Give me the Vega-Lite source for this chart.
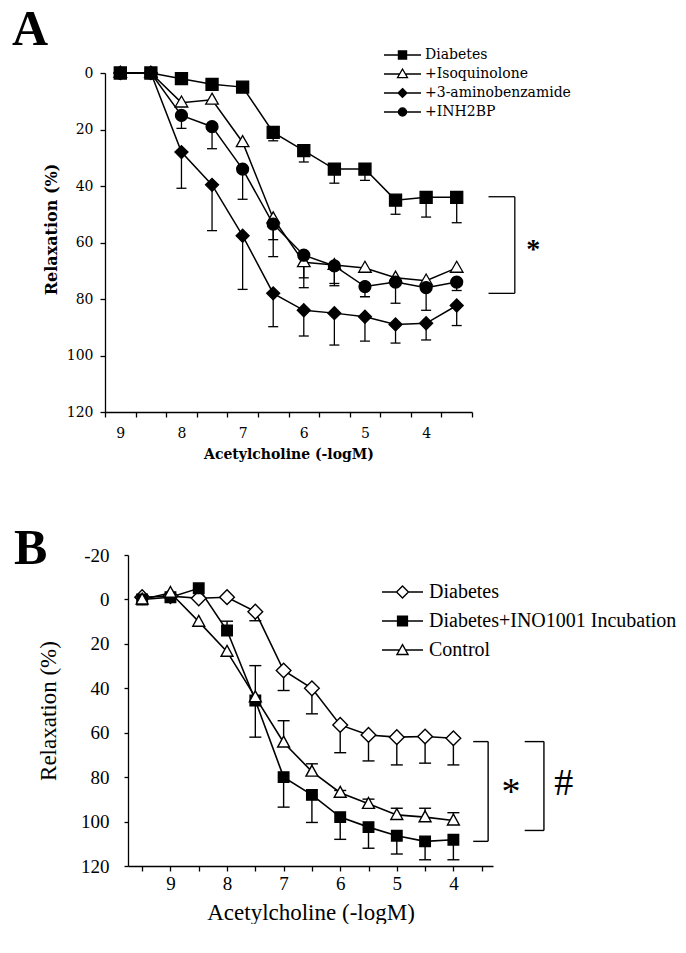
{
  "$schema": "https://vega.github.io/schema/vega-lite/v6.json",
  "padding": {"left": 12, "top": 5, "right": 0, "bottom": 0},
  "spacing": 62,
  "columns": 1,
  "background": "white",
  "config": {
    "view": {"stroke": null},
    "axis": {"grid": false, "domainColor": "black", "tickColor": "black", "labelColor": "black", "titleColor": "black", "domainWidth": 1.3, "tickWidth": 1.3, "labelFlush": false}
  },
  "datasets": {
    "a": [
      {"s": "Diabetes", "x": 9, "y": 0, "e": null},
      {"s": "Diabetes", "x": 8.5, "y": 0, "e": null},
      {"s": "Diabetes", "x": 8, "y": 2, "e": null},
      {"s": "Diabetes", "x": 7.5, "y": 4, "e": null},
      {"s": "Diabetes", "x": 7, "y": 5, "e": null},
      {"s": "Diabetes", "x": 6.5, "y": 21, "e": 24},
      {"s": "Diabetes", "x": 6, "y": 27.5, "e": 31.5},
      {"s": "Diabetes", "x": 5.5, "y": 34, "e": 39},
      {"s": "Diabetes", "x": 5, "y": 34, "e": 38},
      {"s": "Diabetes", "x": 4.5, "y": 45, "e": 50},
      {"s": "Diabetes", "x": 4, "y": 44, "e": 51},
      {"s": "Diabetes", "x": 3.5, "y": 44, "e": 53},
      {"s": "+Isoquinolone", "x": 9, "y": 0, "e": null},
      {"s": "+Isoquinolone", "x": 8.5, "y": 0, "e": null},
      {"s": "+Isoquinolone", "x": 8, "y": 10.5, "e": null},
      {"s": "+Isoquinolone", "x": 7.5, "y": 9.5, "e": null},
      {"s": "+Isoquinolone", "x": 7, "y": 24.5, "e": null},
      {"s": "+Isoquinolone", "x": 6.5, "y": 51.5, "e": 59},
      {"s": "+Isoquinolone", "x": 6, "y": 67, "e": 72.5},
      {"s": "+Isoquinolone", "x": 5.5, "y": 68, "e": 74.5},
      {"s": "+Isoquinolone", "x": 5, "y": 69, "e": null},
      {"s": "+Isoquinolone", "x": 4.5, "y": 72.5, "e": null},
      {"s": "+Isoquinolone", "x": 4, "y": 73.5, "e": null},
      {"s": "+Isoquinolone", "x": 3.5, "y": 69, "e": null},
      {"s": "+3-aminobenzamide", "x": 9, "y": 0, "e": null},
      {"s": "+3-aminobenzamide", "x": 8.5, "y": 0, "e": null},
      {"s": "+3-aminobenzamide", "x": 8, "y": 28, "e": 40.8},
      {"s": "+3-aminobenzamide", "x": 7.5, "y": 39.6, "e": 55.8},
      {"s": "+3-aminobenzamide", "x": 7, "y": 57.6, "e": 76.6},
      {"s": "+3-aminobenzamide", "x": 6.5, "y": 78, "e": 89.8},
      {"s": "+3-aminobenzamide", "x": 6, "y": 84, "e": 93.1},
      {"s": "+3-aminobenzamide", "x": 5.5, "y": 85, "e": 96.3},
      {"s": "+3-aminobenzamide", "x": 5, "y": 86.3, "e": 94.9},
      {"s": "+3-aminobenzamide", "x": 4.5, "y": 89, "e": 95.6},
      {"s": "+3-aminobenzamide", "x": 4, "y": 88.6, "e": 94.5},
      {"s": "+3-aminobenzamide", "x": 3.5, "y": 82.3, "e": 89.4},
      {"s": "+INH2BP", "x": 9, "y": 0, "e": null},
      {"s": "+INH2BP", "x": 8.5, "y": 0, "e": null},
      {"s": "+INH2BP", "x": 8, "y": 15, "e": 19.6},
      {"s": "+INH2BP", "x": 7.5, "y": 19, "e": 26.8},
      {"s": "+INH2BP", "x": 7, "y": 34, "e": 44.7},
      {"s": "+INH2BP", "x": 6.5, "y": 53.5, "e": 65},
      {"s": "+INH2BP", "x": 6, "y": 64.5, "e": 76},
      {"s": "+INH2BP", "x": 5.5, "y": 68.3, "e": 75.3},
      {"s": "+INH2BP", "x": 5, "y": 75.6, "e": 79.2},
      {"s": "+INH2BP", "x": 4.5, "y": 74, "e": 81.5},
      {"s": "+INH2BP", "x": 4, "y": 76, "e": 84},
      {"s": "+INH2BP", "x": 3.5, "y": 74, "e": 77}
    ],
    "b": [
      {"s": "Diabetes", "x": 9.5, "y": -1, "e": null},
      {"s": "Diabetes", "x": 9, "y": -1.5, "e": null},
      {"s": "Diabetes", "x": 8.5, "y": -0.5, "e": null},
      {"s": "Diabetes", "x": 8, "y": -1, "e": null},
      {"s": "Diabetes", "x": 7.5, "y": 5.5, "e": 9.6},
      {"s": "Diabetes", "x": 7, "y": 32, "e": 41},
      {"s": "Diabetes", "x": 6.5, "y": 40, "e": 51.5},
      {"s": "Diabetes", "x": 6, "y": 56.5, "e": 69},
      {"s": "Diabetes", "x": 5.5, "y": 61, "e": 72.7},
      {"s": "Diabetes", "x": 5, "y": 62, "e": 74.5},
      {"s": "Diabetes", "x": 4.5, "y": 61.7, "e": 73.7},
      {"s": "Diabetes", "x": 4, "y": 62.5, "e": 74.5},
      {"s": "Diabetes+INO1001 Incubation", "x": 9.5, "y": 0, "e": null},
      {"s": "Diabetes+INO1001 Incubation", "x": 9, "y": -1, "e": null},
      {"s": "Diabetes+INO1001 Incubation", "x": 8.5, "y": -5, "e": null},
      {"s": "Diabetes+INO1001 Incubation", "x": 8, "y": 14, "e": 9.8},
      {"s": "Diabetes+INO1001 Incubation", "x": 7.5, "y": 45.5, "e": 62},
      {"s": "Diabetes+INO1001 Incubation", "x": 7, "y": 80, "e": 93.5},
      {"s": "Diabetes+INO1001 Incubation", "x": 6.5, "y": 88, "e": 100.4},
      {"s": "Diabetes+INO1001 Incubation", "x": 6, "y": 98, "e": 108},
      {"s": "Diabetes+INO1001 Incubation", "x": 5.5, "y": 102.5, "e": 112},
      {"s": "Diabetes+INO1001 Incubation", "x": 5, "y": 106.4, "e": 114.6},
      {"s": "Diabetes+INO1001 Incubation", "x": 4.5, "y": 108.9, "e": 117.2},
      {"s": "Diabetes+INO1001 Incubation", "x": 4, "y": 108.2, "e": 117.2},
      {"s": "Control", "x": 9.5, "y": 0, "e": null},
      {"s": "Control", "x": 9, "y": -3, "e": null},
      {"s": "Control", "x": 8.5, "y": 10, "e": null},
      {"s": "Control", "x": 8, "y": 23.5, "e": null},
      {"s": "Control", "x": 7.5, "y": 44, "e": 29.8},
      {"s": "Control", "x": 7, "y": 64.4, "e": 54.6},
      {"s": "Control", "x": 6.5, "y": 77.5, "e": 74},
      {"s": "Control", "x": 6, "y": 87, "e": 86},
      {"s": "Control", "x": 5.5, "y": 92, "e": 89.9},
      {"s": "Control", "x": 5, "y": 97, "e": 94},
      {"s": "Control", "x": 4.5, "y": 98, "e": 94},
      {"s": "Control", "x": 4, "y": 99.5, "e": 96}
    ]
  },
  "concat": [
    {
      "width": 367,
      "height": 339,
      "title": {"text": "A", "anchor": "start", "frame": "group", "dx": -93, "offset": -48.5, "baseline": "alphabetic", "fontSize": 50, "font": "Liberation Serif", "fontWeight": "bold", "color": "black"},
      "resolve": {"scale": {"x": "independent", "shape": "independent", "fill": "independent"}},
      "layer": [
        {
          "data": {"name": "a"},
          "transform": [{"filter": "datum.e != null"}],
          "mark": {"type": "rule", "color": "black", "strokeWidth": 1.3, "clip": false},
          "encoding": {
            "x": {"field": "x", "type": "quantitative", "scale": {"domain": [3.25, 9.25], "reverse": true, "nice": false, "zero": false},
              "axis": {"orient": "bottom", "title": null, "labels": false, "values": [9.25, 8.75, 8.25, 7.75, 7.25, 6.75, 6.25, 5.75, 5.25, 4.75, 4.25, 3.75, 3.25], "tickSize": 5}},
            "y": {"field": "y", "type": "quantitative", "scale": {"domain": [0, 120], "reverse": true, "nice": false, "zero": false},
              "axis": {"title": "Relaxation (%)", "values": [0, 20, 40, 60, 80, 100, 120], "tickSize": 5, "labelPadding": 7, "titleY": 156,
                "labelFont": "DejaVu Serif", "labelFontSize": 14, "titleFont": "DejaVu Serif", "titleFontWeight": "bold", "titleFontSize": 16, "titlePadding": 7}},
            "y2": {"field": "e"}
          }
        },
        {
          "data": {"name": "a"},
          "transform": [{"filter": "datum.e != null"}],
          "mark": {"type": "tick", "orient": "horizontal", "size": 10, "thickness": 1.3, "color": "black", "opacity": 1, "clip": false},
          "encoding": {
            "x": {"field": "x", "type": "quantitative", "axis": null, "scale": {"domain": [3.25, 9.25], "reverse": true, "nice": false, "zero": false}},
            "y": {"field": "e", "type": "quantitative", "scale": {"domain": [0, 120], "reverse": true, "nice": false, "zero": false}}
          }
        },
        {
          "data": {"name": "a"},
          "mark": {"type": "line", "color": "black", "strokeWidth": 1.5, "clip": false},
          "encoding": {
            "x": {"field": "x", "type": "quantitative", "scale": {"domain": [3.25, 9.25], "reverse": true, "nice": false, "zero": false},
              "axis": {"orient": "bottom", "title": "Acetylcholine (-logM)", "values": [9, 8, 7, 6, 5, 4], "domain": false, "tickOpacity": 0, "tickSize": 5,
                "labelPadding": 9, "labelFont": "DejaVu Serif", "labelFontSize": 14, "labelOverlap": false,
                "titleFont": "DejaVu Serif", "titleFontWeight": "bold", "titleFontSize": 14, "titlePadding": 7}},
            "y": {"field": "y", "type": "quantitative", "scale": {"domain": [0, 120], "reverse": true, "nice": false, "zero": false}},
            "detail": {"field": "s"}
          }
        },
        {
          "data": {"name": "a"},
          "mark": {"type": "point", "filled": true, "size": 196, "stroke": "black", "strokeWidth": 1.3, "opacity": 1, "clip": false},
          "encoding": {
            "x": {"field": "x", "type": "quantitative", "axis": null, "scale": {"domain": [3.25, 9.25], "reverse": true, "nice": false, "zero": false}},
            "y": {"field": "y", "type": "quantitative", "scale": {"domain": [0, 120], "reverse": true, "nice": false, "zero": false}},
            "shape": {"field": "s", "type": "nominal", "legend": null, "scale": {"domain": ["Diabetes", "+Isoquinolone", "+3-aminobenzamide", "+INH2BP"],
              "range": ["M-0.86,-0.86H0.86V0.86H-0.86Z", "M0,-0.95L0.9,0.62H-0.9Z", "M0,-0.93L0.93,0L0,0.93L-0.93,0Z", "M-0.85,0A0.85,0.85 0 1,0 0.85,0A0.85,0.85 0 1,0 -0.85,0Z"]}},
            "fill": {"field": "s", "type": "nominal", "legend": null, "scale": {"domain": ["Diabetes", "+Isoquinolone", "+3-aminobenzamide", "+INH2BP"], "range": ["black", "white", "black", "black"]}}
          }
        },
        {
          "data": {"name": "a"},
          "transform": [{"filter": "false"}],
          "mark": {"type": "point", "filled": true, "size": 1369, "stroke": "black", "strokeWidth": 1.3, "opacity": 1},
          "encoding": {
            "shape": {"field": "s", "type": "nominal",
              "scale": {"domain": ["Diabetes", "+Isoquinolone", "+3-aminobenzamide", "+INH2BP"],
                "range": ["M-1,0H1M-0.22,-0.22H0.22V0.22H-0.22Z", "M-1,0H-0.16M0.16,0H1M0,-0.27L0.27,0.2H-0.27Z", "M-1,0H1M0,-0.24L0.24,0L0,0.24L-0.24,0Z", "M-1,0H1M-0.22,0A0.22,0.22 0 1,0 0.22,0A0.22,0.22 0 1,0 -0.22,0Z"]},
              "legend": {"title": null, "orient": "none", "legendX": 278, "legendY": -26.5, "padding": 0, "symbolSize": 1369, "clipHeight": 17, "rowPadding": 2, "labelOffset": 3,
                "labelFont": "DejaVu Serif", "labelFontSize": 14, "labelColor": "black", "symbolStrokeColor": "black", "symbolStrokeWidth": 1.3, "symbolOpacity": 1,
                "encode": {"symbols": {"update": {"stroke": {"value": "black"}, "strokeWidth": {"value": 1.3}}}}}},
            "fill": {"field": "s", "type": "nominal",
              "scale": {"domain": ["Diabetes", "+Isoquinolone", "+3-aminobenzamide", "+INH2BP"], "range": ["black", "white", "black", "black"]},
              "legend": {"title": null, "orient": "none", "legendX": 278, "legendY": -26.5, "padding": 0, "symbolSize": 1369, "clipHeight": 17, "rowPadding": 2, "labelOffset": 3,
                "labelFont": "DejaVu Serif", "labelFontSize": 14, "labelColor": "black", "symbolStrokeColor": "black", "symbolStrokeWidth": 1.3, "symbolOpacity": 1,
                "encode": {"symbols": {"update": {"stroke": {"value": "black"}, "strokeWidth": {"value": 1.3}}}}}}
          }
        },
        {
          "data": {"values": [
            {"x": 2.55, "x2": 2.55, "y": 43.8, "y2": 78},
            {"x": 2.98, "x2": 2.55, "y": 43.8, "y2": 43.8},
            {"x": 2.98, "x2": 2.55, "y": 78, "y2": 78}
          ]},
          "mark": {"type": "rule", "color": "black", "strokeWidth": 1.3, "clip": false},
          "encoding": {
            "x": {"field": "x", "type": "quantitative", "axis": null, "scale": {"domain": [3.25, 9.25], "reverse": true, "nice": false, "zero": false}},
            "x2": {"field": "x2"},
            "y": {"field": "y", "type": "quantitative", "scale": {"domain": [0, 120], "reverse": true, "nice": false, "zero": false}},
            "y2": {"field": "y2"}
          }
        },
        {
          "data": {"values": [{"x": 2.25, "y": 65.5, "t": "*"}]},
          "mark": {"type": "text", "font": "Liberation Serif", "fontSize": 28, "fontWeight": "bold", "baseline": "alphabetic", "align": "center", "color": "black", "clip": false},
          "encoding": {
            "x": {"field": "x", "type": "quantitative", "axis": null, "scale": {"domain": [3.25, 9.25], "reverse": true, "nice": false, "zero": false}},
            "y": {"field": "y", "type": "quantitative", "scale": {"domain": [0, 120], "reverse": true, "nice": false, "zero": false}},
            "text": {"field": "t"}
          }
        }
      ]
    },
    {
      "width": 388,
      "height": 311,
      "title": {"text": "B", "anchor": "start", "frame": "group", "dx": -91, "offset": -67.5, "baseline": "alphabetic", "fontSize": 50, "font": "Liberation Serif", "fontWeight": "bold", "color": "black"},
      "resolve": {"scale": {"x": "independent", "shape": "independent", "fill": "independent"}},
      "layer": [
        {
          "data": {"name": "b"},
          "transform": [{"filter": "datum.e != null"}],
          "mark": {"type": "rule", "color": "black", "strokeWidth": 1.4, "clip": false},
          "encoding": {
            "x": {"field": "x", "type": "quantitative", "scale": {"domain": [3.3, 9.75], "range": [23, 388], "reverse": true, "nice": false, "zero": false},
              "axis": {"orient": "bottom", "title": null, "labels": false, "values": [9.5, 9, 8.5, 8, 7.5, 7, 6.5, 6, 5.5, 5, 4.5, 4, 3.5], "tickSize": 5}},
            "y": {"field": "y", "type": "quantitative", "scale": {"domain": [-20, 120], "reverse": true, "nice": false, "zero": false},
              "axis": {"title": "Relaxation (%)", "values": [-20, 0, 20, 40, 60, 80, 100, 120], "offset": -23, "tickSize": 4, "labelPadding": 15,
                "labelExpr": "datum.value < 0 ? '-' + abs(datum.value) : '' + datum.value",
                "labelFont": "Liberation Serif", "labelFontSize": 19, "titleFont": "Liberation Serif", "titleFontWeight": "normal", "titleFontSize": 23, "titlePadding": 20}},
            "y2": {"field": "e"}
          }
        },
        {
          "data": {"name": "b"},
          "transform": [{"filter": "datum.e != null"}],
          "mark": {"type": "tick", "orient": "horizontal", "size": 12, "thickness": 1.4, "color": "black", "opacity": 1, "clip": false},
          "encoding": {
            "x": {"field": "x", "type": "quantitative", "axis": null, "scale": {"domain": [3.3, 9.75], "range": [23, 388], "reverse": true, "nice": false, "zero": false}},
            "y": {"field": "e", "type": "quantitative", "scale": {"domain": [-20, 120], "reverse": true, "nice": false, "zero": false}}
          }
        },
        {
          "data": {"name": "b"},
          "mark": {"type": "line", "color": "black", "strokeWidth": 1.6, "clip": false},
          "encoding": {
            "x": {"field": "x", "type": "quantitative", "scale": {"domain": [3.3, 9.75], "range": [23, 388], "reverse": true, "nice": false, "zero": false},
              "axis": {"orient": "bottom", "title": "Acetylcholine (-logM)", "values": [9, 8, 7, 6, 5, 4], "domain": false, "tickOpacity": 0, "tickSize": 5,
                "labelPadding": 3, "labelFont": "Liberation Serif", "labelFontSize": 19, "labelOverlap": false,
                "titleFont": "Liberation Serif", "titleFontWeight": "normal", "titleFontSize": 23, "titlePadding": 8}},
            "y": {"field": "y", "type": "quantitative", "scale": {"domain": [-20, 120], "reverse": true, "nice": false, "zero": false}},
            "detail": {"field": "s"}
          }
        },
        {
          "data": {"name": "b"},
          "mark": {"type": "point", "filled": true, "size": 196, "stroke": "black", "strokeWidth": 1.4, "opacity": 1, "clip": false},
          "encoding": {
            "x": {"field": "x", "type": "quantitative", "axis": null, "scale": {"domain": [3.3, 9.75], "range": [23, 388], "reverse": true, "nice": false, "zero": false}},
            "y": {"field": "y", "type": "quantitative", "scale": {"domain": [-20, 120], "reverse": true, "nice": false, "zero": false}},
            "shape": {"field": "s", "type": "nominal", "legend": null, "scale": {"domain": ["Diabetes", "Diabetes+INO1001 Incubation", "Control"],
              "range": ["M0,-1.05L1.05,0L0,1.05L-1.05,0Z", "M-0.75,-0.75H0.75V0.75H-0.75Z", "M0,-0.9L0.85,0.65H-0.85Z"]}},
            "fill": {"field": "s", "type": "nominal", "legend": null, "scale": {"domain": ["Diabetes", "Diabetes+INO1001 Incubation", "Control"], "range": ["white", "black", "white"]}}
          }
        },
        {
          "data": {"name": "b"},
          "transform": [{"filter": "false"}],
          "mark": {"type": "point", "filled": true, "size": 1681, "stroke": "black", "strokeWidth": 1.4, "opacity": 1},
          "encoding": {
            "shape": {"field": "s", "type": "nominal",
              "scale": {"domain": ["Diabetes", "Diabetes+INO1001 Incubation", "Control"],
                "range": ["M-1,0H-0.29M0.29,0H1M0,-0.29L0.29,0L0,0.29L-0.29,0Z", "M-1,0H1M-0.24,-0.24H0.24V0.24H-0.24Z", "M-1,0H-0.15M0.15,0H1M0,-0.26L0.27,0.22H-0.27Z"]},
              "legend": {"title": null, "orient": "none", "legendX": 276, "legendY": 24, "padding": 0, "symbolSize": 1681, "clipHeight": 26, "rowPadding": 3, "labelOffset": 5,
                "labelFont": "Liberation Serif", "labelFontSize": 20, "labelColor": "black", "labelLimit": 400, "symbolStrokeColor": "black", "symbolStrokeWidth": 1.4, "symbolOpacity": 1,
                "encode": {"symbols": {"update": {"stroke": {"value": "black"}, "strokeWidth": {"value": 1.4}}}}}},
            "fill": {"field": "s", "type": "nominal",
              "scale": {"domain": ["Diabetes", "Diabetes+INO1001 Incubation", "Control"], "range": ["white", "black", "white"]},
              "legend": {"title": null, "orient": "none", "legendX": 276, "legendY": 24, "padding": 0, "symbolSize": 1681, "clipHeight": 26, "rowPadding": 3, "labelOffset": 5,
                "labelFont": "Liberation Serif", "labelFontSize": 20, "labelColor": "black", "labelLimit": 400, "symbolStrokeColor": "black", "symbolStrokeWidth": 1.4, "symbolOpacity": 1,
                "encode": {"symbols": {"update": {"stroke": {"value": "black"}, "strokeWidth": {"value": 1.4}}}}}}
          }
        },
        {
          "data": {"values": [
            {"x": 3.386, "x2": 3.386, "y": 64, "y2": 108.9},
            {"x": 3.65, "x2": 3.386, "y": 64, "y2": 64},
            {"x": 3.65, "x2": 3.386, "y": 108.9, "y2": 108.9},
            {"x": 2.4, "x2": 2.4, "y": 64, "y2": 104},
            {"x": 2.74, "x2": 2.4, "y": 64, "y2": 64},
            {"x": 2.74, "x2": 2.4, "y": 104, "y2": 104}
          ]},
          "mark": {"type": "rule", "color": "black", "strokeWidth": 1.4, "clip": false},
          "encoding": {
            "x": {"field": "x", "type": "quantitative", "axis": null, "scale": {"domain": [3.3, 9.75], "range": [23, 388], "reverse": true, "nice": false, "zero": false}},
            "x2": {"field": "x2"},
            "y": {"field": "y", "type": "quantitative", "scale": {"domain": [-20, 120], "reverse": true, "nice": false, "zero": false}},
            "y2": {"field": "y2"}
          }
        },
        {
          "data": {"values": [{"x": 2.98, "y": 92, "t": "*"}, {"x": 2.05, "y": 88, "t": "#"}]},
          "mark": {"type": "text", "font": "Liberation Serif", "fontSize": 38, "baseline": "alphabetic", "align": "center", "color": "black", "clip": false},
          "encoding": {
            "x": {"field": "x", "type": "quantitative", "axis": null, "scale": {"domain": [3.3, 9.75], "range": [23, 388], "reverse": true, "nice": false, "zero": false}},
            "y": {"field": "y", "type": "quantitative", "scale": {"domain": [-20, 120], "reverse": true, "nice": false, "zero": false}},
            "text": {"field": "t"}
          }
        }
      ]
    }
  ]
}
